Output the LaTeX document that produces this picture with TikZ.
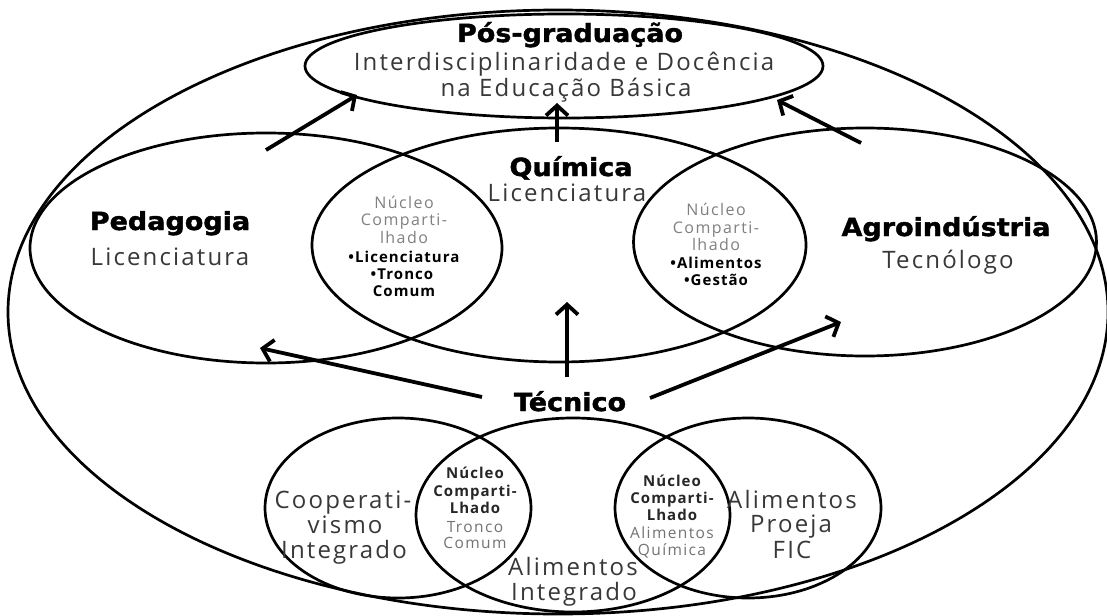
\documentclass[tikz,border=0pt]{standalone}
\usepackage{fontspec}
\usetikzlibrary{shapes.geometric,arrows.meta}
\newfontfamily\hv[FakeStretch=1.08,FakeBold=1.6]{DejaVu Sans}
\newfontfamily\lt[LetterSpace=9]{Open Sans}
\newfontfamily\ltb[LetterSpace=7]{Open Sans}
\begin{document}
\begin{tikzpicture}[x=1pt,y=-1pt,
  ring/.style={draw, ellipse, line width=2.7pt, inner sep=0pt},
  arr/.style={line width=3.8pt, -{Straight Barb[length=10pt,width=22pt]}},
  big/.style={font=\hv\bfseries\fontsize{25}{30}\selectfont, anchor=base, inner sep=0pt},
  lite/.style={font=\lt\fontsize{24}{28}\selectfont, text=black!78, anchor=base, inner sep=0pt},
  sgray/.style={font=\lt\fontsize{16}{18}\selectfont, text=black!50, anchor=base, inner sep=0pt},
  sbold/.style={font=\ltb\bfseries\fontsize{15}{18}\selectfont, text=black, anchor=base, inner sep=0pt},
  bgray/.style={font=\lt\fontsize{15.5}{18}\selectfont, text=black!55, anchor=base, inner sep=0pt},
  bbold/.style={font=\ltb\bfseries\fontsize{15}{18}\selectfont, text=black!85, anchor=base, inner sep=0pt}
]
\useasboundingbox[fill=white] (0,0) rectangle (1107,615);

% ellipses
\node[ring, minimum width=1100pt, minimum height=604pt] (outer) at (558,312) {};
\node[ring, minimum width=518pt, minimum height=104pt] (pos) at (564,66) {};
\node[ring, minimum width=472pt, minimum height=230pt] (ped) at (266,248) {};
\node[ring, minimum width=494pt, minimum height=234pt] (qui) at (559,245) {};
\node[ring, minimum width=463pt, minimum height=228pt] (agr) at (865,242) {};
\node[ring, minimum width=266pt, minimum height=180pt] (coop) at (398,508) {};
\node[ring, minimum width=314pt, minimum height=194pt] (alim) at (573,515) {};
\node[ring, minimum width=266pt, minimum height=180pt] (proe) at (748,508) {};

% Pos-graduacao
\node[big] (posT) at (570,42) {Pós-graduação};
\node[lite] (posL1) at (564,71) {Interdisciplinaridade e Docência};
\node[lite] (posL2) at (566,97) {na Educação Básica};

% Pedagogia
\node[big] (pedT) at (170,230) {Pedagogia};
\node[lite] (pedL) at (170,265) {Licenciatura};
% Quimica
\node[big] (quiT) at (571,176) {Química};
\node[lite] (quiL) at (567,201) {Licenciatura};
% Agroindustria
\node[big] (agrT) at (946,236) {Agroindústria};
\node[lite] (agrL) at (948,268) {Tecnólogo};

% upper left lens
\node[sgray] (ul1) at (404,208) {Núcleo};
\node[sgray] (ul2) at (404,225) {Comparti-};
\node[sgray] (ul3) at (404,243) {lhado};
\node[sbold] (ul4) at (404,262) {•Licenciatura};
\node[sbold] (ul5) at (402,279) {•Tronco};
\node[sbold] (ul6) at (404,296) {Comum};
% upper right lens
\node[sgray] (ur1) at (716,215) {Núcleo};
\node[sgray] (ur2) at (716,233) {Comparti-};
\node[sgray] (ur3) at (716,250) {lhado};
\node[sbold] (ur4) at (716,268) {•Alimentos};
\node[sbold] (ur5) at (716,285) {•Gestão};

% Tecnico
\node[big] (tec) at (570,411) {Técnico};

% bottom left
\node[lite] (co1) at (343,508) {Cooperati-};
\node[lite] (co2) at (345,533) {vismo};
\node[lite] (co3) at (344,558) {Integrado};
% bottom left lens
\node[bbold] (bl1) at (475,478) {Núcleo};
\node[bbold] (bl2) at (475,496) {Comparti-};
\node[bbold] (bl3) at (475,513) {Lhado};
\node[bgray] (bl4) at (475,532) {Tronco};
\node[bgray] (bl5) at (475,548) {Comum};
% middle
\node[lite] (al1) at (573,575) {Alimentos};
\node[lite] (al2) at (574,600) {Integrado};
% bottom right lens
\node[bbold] (br1) at (672,486) {Núcleo};
\node[bbold] (br2) at (672,503) {Comparti-};
\node[bbold] (br3) at (672,520) {Lhado};
\node[bgray] (br4) at (672,538) {Alimentos};
\node[bgray] (br5) at (672,555) {Química};
% right
\node[lite] (pr1) at (792,508) {Alimentos};
\node[lite] (pr2) at (791,532) {Proeja};
\node[lite] (pr3) at (792,558) {FIC};

% arrow ends
\coordinate (a1s) at (266,150); \coordinate (a1e) at (357,95);
\coordinate (a2s) at (557,142); \coordinate (a2e) at (557,103);
\coordinate (a3s) at (861,143); \coordinate (a3e) at (777,100);
\coordinate (a4s) at (482,397); \coordinate (a4e) at (260,348);
\coordinate (a5s) at (567,377); \coordinate (a5e) at (567,302);
\coordinate (a6s) at (650,398); \coordinate (a6e) at (841,322);
\draw[arr] (a1s) -- (a1e);
\draw[arr] (a2s) -- (a2e);
\draw[arr] (a3s) -- (a3e);
\draw[arr] (a4s) -- (a4e);
\draw[arr] (a5s) -- (a5e);
\draw[arr] (a6s) -- (a6e);
\end{tikzpicture}
\end{document}
